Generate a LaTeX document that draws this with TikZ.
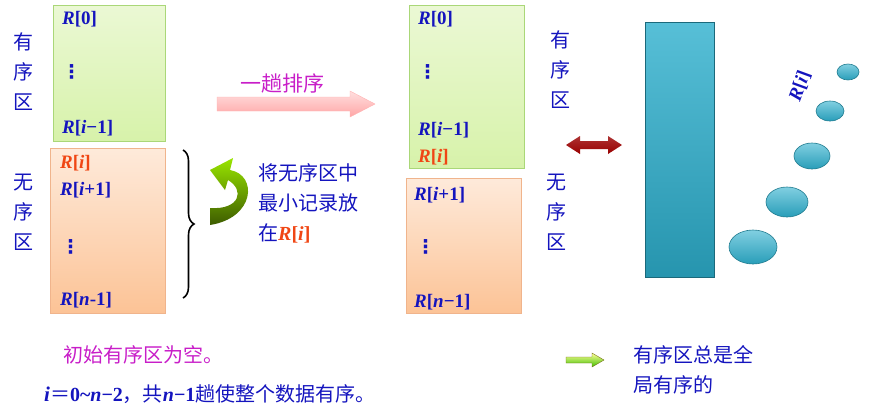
\documentclass[tikz,border=0pt]{standalone}
\usepackage{fontspec}
\setmainfont{Liberation Serif}
\newfontfamily\cjk{Noto Sans CJK SC}
\newfontfamily\dv{DejaVu Sans}
\usetikzlibrary{shapes.geometric,decorations.pathreplacing}
\definecolor{tblue}{RGB}{20,20,190}
\definecolor{tred}{RGB}{240,70,20}
\definecolor{tmag}{RGB}{200,30,200}
\definecolor{gfill}{RGB}{215,242,170}
\definecolor{gline}{RGB}{170,215,120}
\definecolor{ofill}{RGB}{252,195,150}
\definecolor{oline}{RGB}{240,180,140}
\definecolor{cyanb}{RGB}{45,175,205}
\newcommand{\Ri}[1]{\textbf{\textit{R}[#1]}}
\newcommand{\vd}{{\dv\bfseries ⋮}}
\tikzset{
  txt/.style={text=tblue,font=\fontsize{19}{22}\selectfont,inner sep=0pt,anchor=west},
  cj/.style={text=tblue,font=\cjk\fontsize{20}{30}\selectfont,inner sep=0pt},
  gbox/.style={draw=gline,top color=gfill!50!white,bottom color=gfill,line width=1pt},
  obox/.style={draw=oline,top color=ofill!35!white,bottom color=ofill,line width=1pt},
  blob/.style={ellipse,draw=cyanb!70!black,top color=cyanb!60!white,bottom color=cyanb!90!black,line width=0.6pt,inner sep=0pt},
}
\begin{document}
\begin{tikzpicture}[x=1pt,y=-1pt]
\useasboundingbox (0,0) rectangle (883,416);
% left boxes
\draw[gbox] (53,5) rectangle (165,141);
\draw[obox] (50,148) rectangle (165,313);
\node[txt] (l0) at (62,19) {\Ri{0}};
\node[txt] (l1) at (62,72) {\vd};
\node[txt] (l2) at (62,128) {\Ri{\textit{i}−1}};
\node[txt,text=tred] (l3) at (60,163) {\Ri{\textit{i}}};
\node[txt] (l4) at (60,190) {\Ri{\textit{i}+1}};
\node[txt] (l5) at (61,247) {\vd};
\node[txt] (l6) at (60,300) {\Ri{\textit{n}-1}};
\node[cj,align=center] (lo) at (23,72) {有\\序\\区};
\node[cj,align=center] (lu) at (23,212) {无\\序\\区};
% brace
\draw[line width=1.6pt,decorate,decoration={brace,amplitude=11pt}] (183,150) -- (183,298);
% green curved arrow
\shade[top color=olive!40!green!50!yellow, bottom color=olive!80!green!60!black]
  (210,225) .. controls (255,218) and (258,175) .. (230,170)
  -- (233,158) -- (210,170) -- (225,190) -- (228,180)
  .. controls (245,190) and (240,210) .. (210,208) -- cycle;
\node[cj,anchor=west,align=left] (note) at (258,203) {将无序区中\\最小记录放\\在{\rmfamily\textcolor{tred}{\Ri{\textit{i}}}}};
% big arrow
\shade[draw=red!30,top color=pink!50,bottom color=red!35]
  (217,97) -- (350,97) -- (350,91) -- (375,104) -- (350,117) -- (350,111) -- (217,111) -- cycle;
\node[cj,text=tmag,font=\cjk\fontsize{21}{24}\selectfont] (bt) at (282,83) {一趟排序};
% middle boxes
\draw[gbox] (409,5) rectangle (524,168);
\draw[obox] (406,178) rectangle (521,313);
\node[txt] (m0) at (418,19) {\Ri{0}};
\node[txt] (m1) at (418,72) {\vd};
\node[txt] (m2) at (418,130) {\Ri{\textit{i}−1}};
\node[txt,text=tred] (m3) at (418,157) {\Ri{\textit{i}}};
\node[txt] (m4) at (414,195) {\Ri{\textit{i}+1}};
\node[txt] (m5) at (416,247) {\vd};
\node[txt] (m6) at (414,302) {\Ri{\textit{n}−1}};
\node[cj,align=center] (ro) at (560,70) {有\\序\\区};
\node[cj,align=center] (ru) at (556,212) {无\\序\\区};
% double arrow
\shade[top color=red!60!black!80!white,bottom color=red!60!black]
  (566,145) -- (580,136) -- (580,141) -- (608,141) -- (608,136) -- (622,145) -- (608,154) -- (608,149) -- (580,149) -- (580,154) -- cycle;
% cyan bar
\shade[draw=cyanb!60!black,top color=cyanb!80!white,bottom color=cyanb!85!black,line width=0.6pt] (645,22) rectangle (714,277);
\node[blob,minimum width=48pt,minimum height=34pt] (e1) at (753,247) {};
\node[blob,minimum width=42pt,minimum height=30pt] (e2) at (787,202) {};
\node[blob,minimum width=36pt,minimum height=26pt] (e3) at (812,156) {};
\node[blob,minimum width=28pt,minimum height=20pt] (e4) at (830,111) {};
\node[blob,minimum width=22pt,minimum height=16pt] (e5) at (848,72) {};
\node[txt,anchor=center,rotate=70] (rr) at (800,86) {\Ri{\textit{i}}};
% bottom texts
\node[cj,text=tmag,anchor=west] (b1) at (63,355) {初始有序区为空。};
\node[cj,anchor=west] (b2) at (44,394) {{\rmfamily\bfseries\itshape\fontsize{21}{22}\selectfont i}＝{\rmfamily\bfseries\fontsize{20}{22}\selectfont 0\textasciitilde\textit{n}−2}，共{\rmfamily\bfseries\fontsize{20}{22}\selectfont\textit{n}−1}趟使整个数据有序。};
\shade[draw=olive!80!black,top color=yellow!40,bottom color=green!50!olive]
  (566,357) -- (592,357) -- (592,353) -- (604,360) -- (592,367) -- (592,363) -- (566,363) -- cycle;
\node[cj,anchor=west,align=left] (b3) at (633,370) {有序区总是全\\局有序的};
\end{tikzpicture}
\end{document}
